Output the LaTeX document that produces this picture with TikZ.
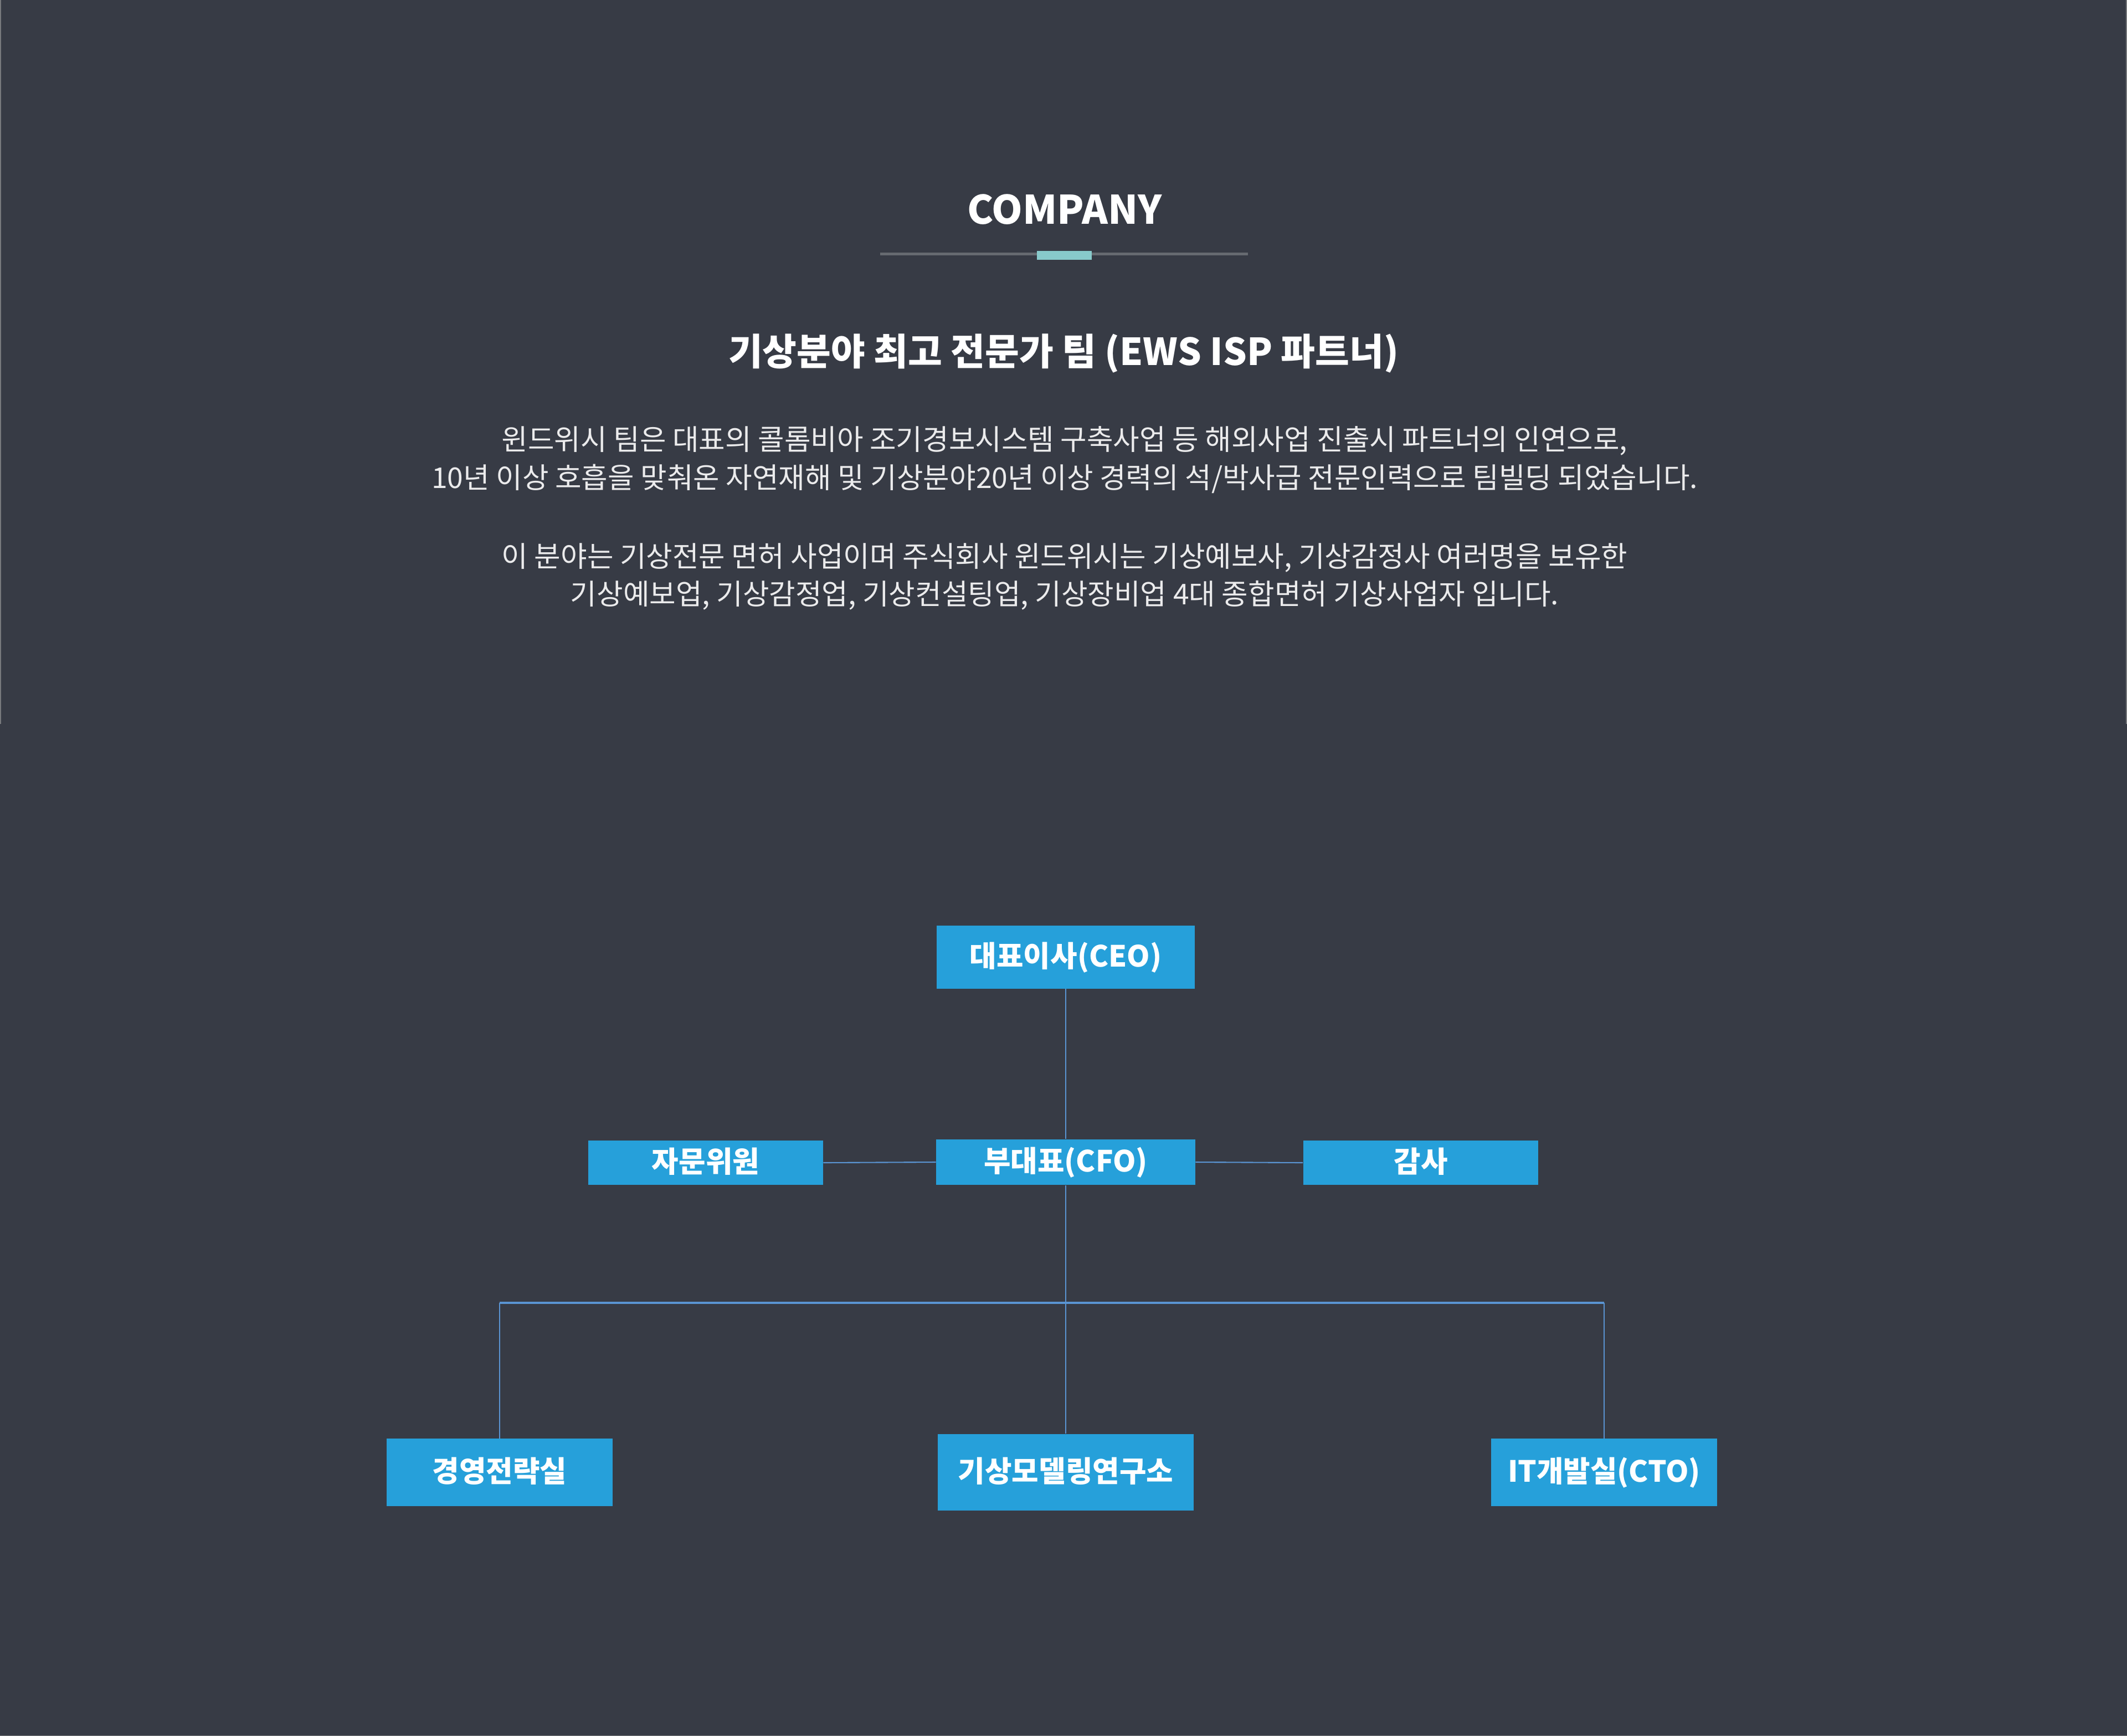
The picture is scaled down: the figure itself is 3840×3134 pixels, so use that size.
\documentclass[tikz,border=0pt]{standalone}
\usepackage{fontspec}
\setmainfont{Noto Sans CJK KR}
\usepackage{xcolor}
\usepackage{tikz}
\usetikzlibrary{positioning, calc}

\definecolor{bgdark}{HTML}{373B45}
\definecolor{boxblue}{HTML}{26A0DA}
\definecolor{linkblue}{HTML}{5A94D2}
\definecolor{rulegray}{HTML}{666A70}
\definecolor{accentteal}{HTML}{88CACB}
\definecolor{edgegray}{HTML}{77797C}

\tikzset{
  orgbox/.style  = {fill=boxblue, inner sep=0pt, text=white,
                    text height=1.0em, text depth=0.02em,
                    font=\fontsize{15}{17}\selectfont\bfseries},
  orgline/.style = {draw=linkblue, line width=0.6pt},
  busline/.style = {draw=linkblue, line width=0.9pt},
  bodytext/.style = {text=white!90!bgdark, align=center,
                     font=\fontsize{14.7}{19.6}\selectfont},
}

\begin{document}
\begin{tikzpicture}[x=0.01cm, y=-0.01cm]

    % Background and page frame
    \fill[bgdark] (0,0) rectangle (3840,3134);
    \useasboundingbox (0,0) rectangle (3840,3134);
    \fill[edgegray] (0,0) rectangle (2,1307);
    \fill[edgegray] (3838,0) rectangle (3840,1307);
    \fill[edgegray] (0,3133) rectangle (3840,3134);

    % --- HEADER ---
    \node[text=white, font=\fontsize{20.2}{24}\selectfont\bfseries] (head) at (1922,378) {COMPANY};
    \fill[rulegray] (1589,456) rectangle (2253,461);
    \fill[accentteal] (1872,453) rectangle (1971,469);

    \node[text=white, font=\fontsize{19.1}{22}\selectfont\bfseries] (sub) at (1920,638)
        {기상분야 최고 전문가 팀 (EWS ISP 파트너)};

    % --- INTRO TEXT ---
    \node[bodytext] (intro1) at (1922,830)
        {윈드위시 팀은 대표의 콜롬비아 조기경보시스템 구축사업 등 해외사업 진출시 파트너의 인연으로,\\
         10년 이상 호흡을 맞춰온 자연재해 및 기상분야20년 이상 경력의 석/박사급 전문인력으로 팀빌딩 되었습니다.};
    \node[bodytext] (intro2) at (1922,1041)
        {이 분야는 기상전문 면허 사업이며 주식회사 윈드위시는 기상예보사, 기상감정사 여러명을 보유한\\
         기상예보업, 기상감정업, 기상컨설팅업, 기상장비업 4대 종합면허 기상사업자 입니다.};

    % --- ORG CHART ---
    \node[orgbox, minimum width=4.66cm, minimum height=1.13cm] (ceo) at (1924,1728) {대표이사(CEO)};
    \node[orgbox, minimum width=4.67cm, minimum height=0.82cm] (cfo) at (1924,2098) {부대표(CFO)};
    \node[orgbox, minimum width=4.23cm, minimum height=0.80cm] (advisor) at (1274,2099) {자문위원};
    \node[orgbox, minimum width=4.24cm, minimum height=0.80cm] (audit) at (2565,2099) {감사};

    \node[orgbox, minimum width=4.07cm, minimum height=1.21cm] (mgmt) at (902,2658) {경영전략실};
    \node[orgbox, minimum width=4.61cm, minimum height=1.38cm] (lab) at (1924,2658) {기상모델링연구소};
    \node[orgbox, minimum width=4.07cm, minimum height=1.21cm] (itdev) at (2896,2658) {IT개발실(CTO)};

    \coordinate (bus) at (1924,2352);

    \draw[orgline] (ceo.south) -- (cfo.north);
    \draw[orgline] (advisor.east) -- (cfo.west);
    \draw[orgline] (cfo.east) -- (audit.west);
    \draw[orgline] (cfo.south) -- (lab.north);
    \draw[busline] (mgmt.north |- bus) -- (itdev.north |- bus);
    \draw[orgline] (mgmt.north) -- (mgmt.north |- bus);
    \draw[orgline] (itdev.north) -- (itdev.north |- bus);

\end{tikzpicture}
\end{document}
